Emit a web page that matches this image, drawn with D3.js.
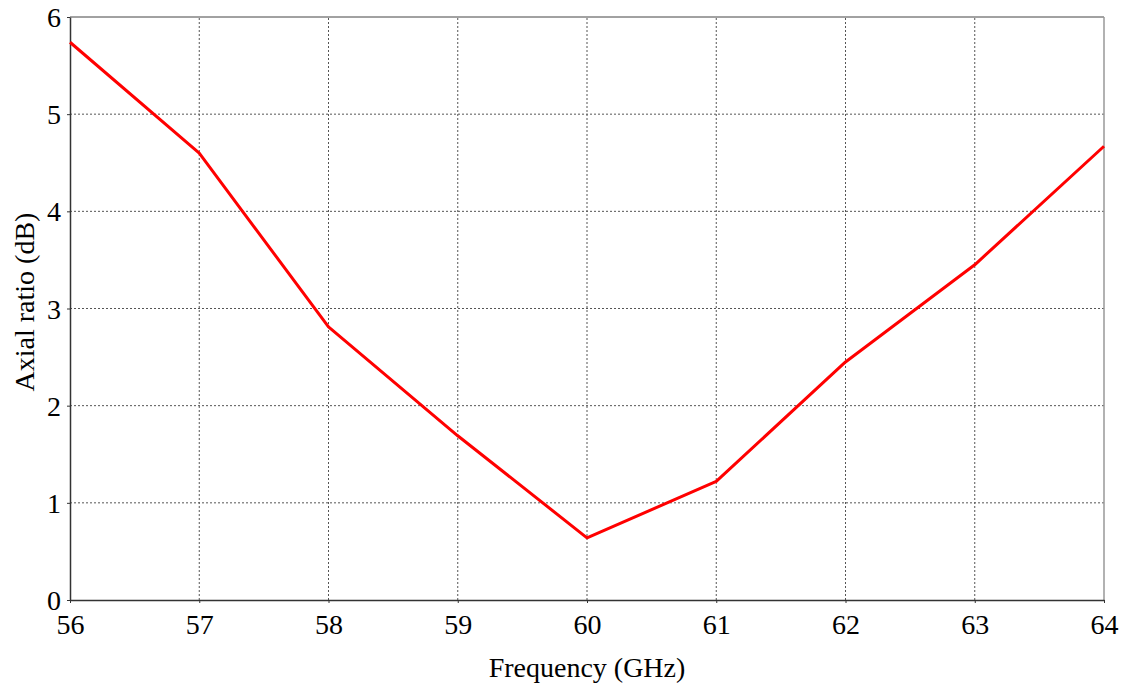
<!DOCTYPE html>
<html>
<head>
<meta charset="utf-8">
<script src="https://cdn.jsdelivr.net/npm/d3@7"></script>
<style>
body{margin:0;background:#fff;}
svg{display:block;}
</style>
</head>
<body>
<svg id="chart" width="1128" height="688"></svg>
<script>
const frequencies = [56, 57, 58, 59, 60, 61, 62, 63, 64];
const axialRatio = [5.74, 4.60, 2.81, 1.69, 0.64, 1.22, 2.45, 3.45, 4.67];
const xTicks = [56, 57, 58, 59, 60, 61, 62, 63, 64];
const yTicks = [0, 1, 2, 3, 4, 5, 6];
const xLabel = "Frequency (GHz)";
const yLabel = "Axial ratio (dB)";

const svg = d3.select("#chart");
const m = {left:70, right:24, top:17, bottom:88};
const W = 1128, H = 688;
const x = d3.scaleLinear().domain([56,64]).range([m.left, W - m.right]);
const y = d3.scaleLinear().domain([0,6]).range([H - m.bottom, m.top]);
const font = "'Liberation Serif','Times New Roman',serif";

// grid
svg.append("g").selectAll("line").data(xTicks.slice(1, -1)).join("line")
  .attr("x1", d => x(d)).attr("x2", d => x(d))
  .attr("y1", y(0)).attr("y2", y(6))
  .attr("stroke", "#555").attr("stroke-width", 1).attr("stroke-dasharray", "2,2");
svg.append("g").selectAll("line").data(yTicks.slice(1, -1)).join("line")
  .attr("x1", x(56)).attr("x2", x(64))
  .attr("y1", d => y(d)).attr("y2", d => y(d))
  .attr("stroke", "#555").attr("stroke-width", 1).attr("stroke-dasharray", "2,2");

// frame: top and right
svg.append("line").attr("x1", x(56)).attr("x2", x(64)).attr("y1", y(6)).attr("y2", y(6))
  .attr("stroke", "#444").attr("stroke-width", 1);
svg.append("line").attr("x1", x(64)).attr("x2", x(64)).attr("y1", y(6)).attr("y2", y(0))
  .attr("stroke", "#999").attr("stroke-width", 1.5);

// axes
const xAxis = svg.append("g").attr("transform", `translate(0,${y(0)})`)
  .call(d3.axisBottom(x).tickValues(xTicks).tickFormat(d3.format("d")).tickSizeInner(3).tickSizeOuter(0).tickPadding(11));
const yAxis = svg.append("g").attr("transform", `translate(${x(56)},0)`)
  .call(d3.axisLeft(y).tickValues(yTicks).tickFormat(d3.format("d")).tickSizeInner(3).tickSizeOuter(0).tickPadding(6));
[xAxis, yAxis].forEach(g => {
  g.select(".domain").attr("stroke", "#333").attr("stroke-width", 1.5);
  g.selectAll(".tick line").attr("stroke", "#333");
  g.selectAll(".tick text").attr("font-family", font).attr("font-size", 28).attr("fill", "#000");
});
yAxis.selectAll(".tick text").attr("dy", "0.34em");

// line
svg.append("path")
  .datum(frequencies.map((f, i) => [f, axialRatio[i]]))
  .attr("fill", "none").attr("stroke", "#ff0000").attr("stroke-width", 3)
  .attr("stroke-linejoin", "round")
  .attr("d", d3.line().x(d => x(d[0])).y(d => y(d[1])));

// labels
svg.append("text").attr("x", (x(56) + x(64)) / 2).attr("y", 677)
  .attr("text-anchor", "middle").attr("font-family", font).attr("font-size", 28).text(xLabel);
svg.append("text").attr("transform", "translate(34,302) rotate(-90)")
  .attr("text-anchor", "middle").attr("font-family", font).attr("font-size", 28).text(yLabel);
</script>
</body>
</html>
